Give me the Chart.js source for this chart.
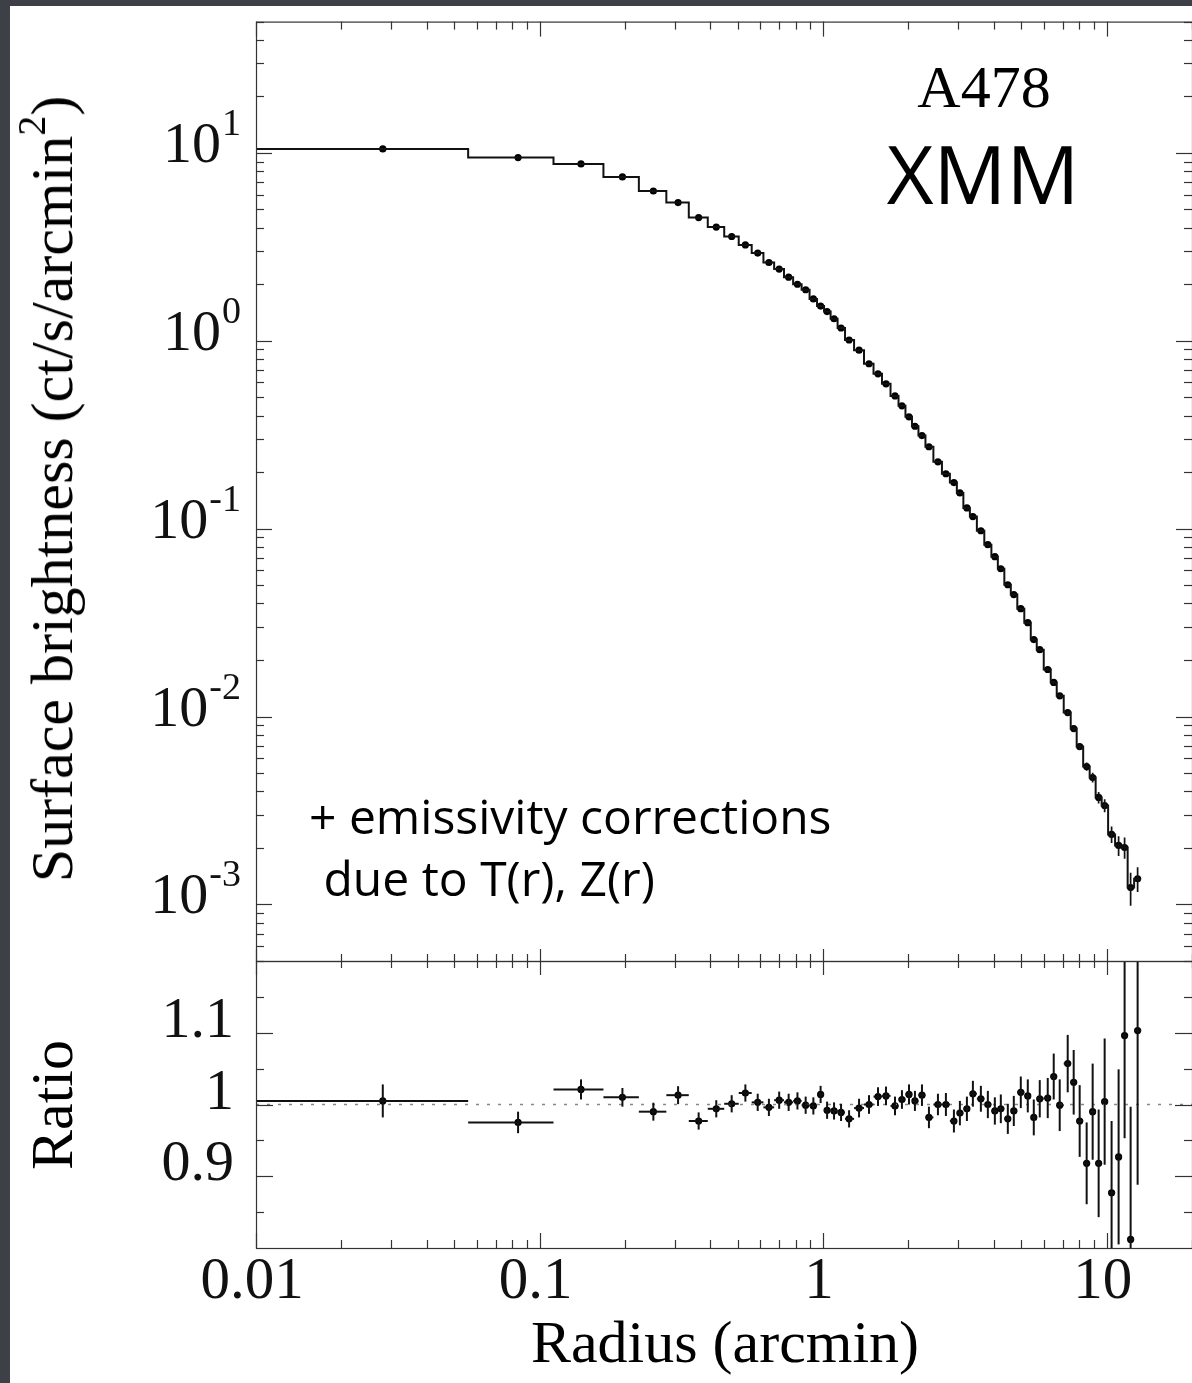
<!DOCTYPE html>
<html><head><meta charset="utf-8">
<script src="https://cdn.jsdelivr.net/npm/chart.js@4.4.1/dist/chart.umd.min.js"></script>
<style>
html,body{margin:0;padding:0;width:1192px;height:1383px;overflow:hidden;background:#3d4046;}
#panel{position:absolute;left:10px;top:6px;width:1182px;height:1377px;background:#fff;}
canvas{position:absolute;left:0;}
#c1{top:0;}
#c2{top:940px;}
.t{position:absolute;white-space:nowrap;line-height:1;color:#000;}
.serif{font-family:'Liberation Serif','Times New Roman',serif;}
.sans{font-family:'Open Sans','Noto Sans',sans-serif;}
</style></head><body>
<div id="panel"></div>
<canvas id="c1" width="1196" height="1000"></canvas>
<canvas id="c2" width="1196" height="443"></canvas>

<div class="t serif" style="left:52px;top:489px;font-size:60px;transform:translate(-50%,-50%) rotate(-90deg);">Surface brightness (ct/s/arcmin<span style="font-size:40px;position:relative;top:-27px;">2</span>)</div>
<div class="t serif" style="left:52px;top:1105px;font-size:60px;transform:translate(-50%,-50%) rotate(-90deg);">Ratio</div>
<div class="t serif" style="left:725px;top:1312px;font-size:60px;transform:translateX(-50%);">Radius (arcmin)</div>
<div class="t serif" style="left:984px;top:57px;font-size:60px;transform:translateX(-50%);">A478</div>
<div class="t sans" style="left:983px;top:132px;font-size:81px;transform:translateX(-50%);">XMM</div>
<div class="t sans" style="left:309px;top:792px;font-size:48px;">+ emissivity corrections</div>
<div class="t sans" style="left:311px;top:854px;font-size:48px;">&nbsp;due to T(r), Z(r)</div>

<script>
// ---------------- DATA ----------------
const binEdges = [0.01,0.056,0.112,0.168,0.224,0.28,0.336,0.392,0.448,0.504,0.56,0.616,0.672,0.728,0.784,0.84,0.896,0.952,1.008,
  1.063,1.125,1.195,1.286,1.394,1.506,1.613,1.729,1.845,1.952,2.058,2.169,2.296,2.449,2.625,2.800,2.963,3.124,3.294,3.486,
  3.703,3.922,4.133,4.357,4.592,4.841,5.124,5.400,5.669,6.000,6.351,6.668,7.057,7.469,7.840,8.265,8.712,9.146,9.603,10.12,
  10.71,11.29,11.86,12.50,13.23];
const radius = [0.028,0.084,0.14,0.196,0.252,0.308,0.364,0.42,0.476,0.532,0.588,0.644,0.70,0.756,0.812,0.868,0.924,0.98,
  1.033,1.093,1.157,1.235,1.339,1.452,1.562,1.667,1.793,1.897,2.009,2.108,2.232,2.362,2.541,2.711,2.893,3.037,3.215,3.375,
  3.601,3.811,4.034,4.234,4.482,4.705,4.980,5.271,5.534,5.809,6.198,6.507,6.831,7.289,7.652,8.033,8.502,8.926,9.371,9.839,
  10.41,11.02,11.57,12.15,12.86];
const brightness = [10.5,9.44,8.74,7.45,6.27,5.44,4.53,4.03,3.59,3.24,2.93,2.61,2.41,2.18,2.00,1.87,1.67,1.53,
  1.43,1.31,1.17,1.01,0.891,0.755,0.667,0.590,0.509,0.451,0.394,0.351,0.313,0.273,0.227,0.196,0.176,0.155,0.129,0.116,
  0.0975,0.0822,0.0710,0.0612,0.0503,0.0446,0.0375,0.0316,0.0257,0.0227,0.0178,0.0152,0.0129,0.0105,0.00863,0.00692,
  0.00542,0.00474,0.00371,0.00336,0.00236,0.00206,0.00201,0.00123,0.00137];
const brightnessErr = [0.005,0.005,0.005,0.005,0.005,0.005,0.005,0.005,0.005,0.005,0.005,0.005,0.005,0.005,0.005,0.005,0.005,0.005,
  0.005,0.005,0.005,0.005,0.005,0.005,0.005,0.005,0.005,0.005,0.008,0.008,0.008,0.008,0.008,0.008,0.008,0.008,0.008,0.008,
  0.012,0.012,0.012,0.012,0.012,0.012,0.012,0.012,0.012,0.012,0.02,0.02,0.025,0.03,0.035,0.04,0.05,0.06,0.07,0.08,
  0.10,0.12,0.13,0.20,0.15];
const ratio = [1.005,0.975,1.021,1.010,0.990,1.013,0.977,0.994,1.001,1.016,1.003,0.996,1.006,1.003,1.005,0.999,0.998,1.014,
  0.992,0.991,0.989,0.980,0.995,1.000,1.011,1.012,0.998,1.007,1.014,1.005,1.013,0.982,1.000,1.000,0.977,0.988,0.994,1.015,
  1.008,1.000,0.991,0.994,0.980,0.991,1.017,1.012,0.982,1.008,1.009,1.039,0.999,1.057,1.031,0.977,0.918,0.990,0.918,1.004,
  0.877,0.927,1.096,0.812,1.103];
const ratioErr = [0.023,0.015,0.014,0.013,0.0125,0.0125,0.012,0.012,0.012,0.012,0.012,0.012,0.012,0.012,0.012,0.012,0.012,0.012,
  0.012,0.012,0.012,0.012,0.013,0.013,0.013,0.013,0.013,0.013,0.014,0.014,0.015,0.015,0.015,0.016,0.016,0.017,0.017,0.018,
  0.018,0.019,0.019,0.020,0.021,0.021,0.022,0.023,0.025,0.026,0.028,0.032,0.036,0.040,0.045,0.050,0.057,0.067,0.075,0.088,
  0.10,0.122,0.143,0.185,0.215];

const xTickValues = [0.01, 0.1, 1, 10];
const xTickLabels = ["0.01", "0.1", "1", "10"];
const sbTickValues = [10, 1, 0.1, 0.01, 0.001];
const sbTickBase = "10";
const sbTickExponents = ["1", "0", "-1", "-2", "-3"];
const ratioTickValues = [1.1, 1.0, 0.9];
const ratioTickLabels = ["1.1", "1", "0.9"];
const ratioMinorTicks = [0.85, 0.95, 1.05, 1.15];
const ratioReference = [1, 1];

// ---------------- helpers ----------------
const SERIF = "'Liberation Serif','Times New Roman',serif";
const INK = '#111';
function logTicks(min, max){
  const major = [], minor = [];
  for (let e = Math.floor(Math.log10(min)) - 1; e <= Math.ceil(Math.log10(max)); e++){
    for (let m = 1; m <= 9; m++){
      const v = m * Math.pow(10, e);
      if (v < min * 0.9999 || v > max * 1.0001) continue;
      (m === 1 ? major : minor).push(v);
    }
  }
  return {major, minor};
}
function xTicks(ctx, a, x, topLen, botLen){
  const t = logTicks(x.min, x.max);
  const draw = (v, lt, lb) => {
    const p = Math.round(x.getPixelForValue(v)) + 0.5;
    if (lt){ ctx.beginPath(); ctx.moveTo(p, a.top); ctx.lineTo(p, a.top + lt); ctx.stroke(); }
    if (lb){ ctx.beginPath(); ctx.moveTo(p, a.bottom); ctx.lineTo(p, a.bottom - lb); ctx.stroke(); }
  };
  t.major.forEach(v => draw(v, topLen[0], botLen[0]));
  t.minor.forEach(v => draw(v, topLen[1], botLen[1]));
}
function yTick(ctx, a, p, len){
  p = Math.round(p) + 0.5;
  ctx.beginPath(); ctx.moveTo(a.left, p); ctx.lineTo(a.left + len, p); ctx.stroke();
  ctx.beginPath(); ctx.moveTo(a.right, p); ctx.lineTo(a.right - len, p); ctx.stroke();
}

// ---------------- top panel ----------------
const stepPoints = [];
for (let i = 0; i < brightness.length; i++){
  stepPoints.push({x: binEdges[i], y: brightness[i]});
  stepPoints.push({x: binEdges[i + 1], y: brightness[i]});
}
const sbPoints = radius.map((r, i) => ({x: r, y: brightness[i]}));

const topPlugin = {
  id: 'topFrame',
  afterDatasetsDraw(chart){
    const {ctx, chartArea: a, scales: {x, y}} = chart;
    ctx.save();
    ctx.beginPath(); ctx.rect(a.left, a.top, a.right - a.left, a.bottom - a.top); ctx.clip();
    ctx.strokeStyle = INK; ctx.lineWidth = 1.7;
    radius.forEach((r, i) => {
      const px = x.getPixelForValue(r);
      const y1 = y.getPixelForValue(brightness[i] * (1 - brightnessErr[i]));
      const y2 = y.getPixelForValue(brightness[i] * (1 + brightnessErr[i]));
      ctx.beginPath(); ctx.moveTo(px, y1); ctx.lineTo(px, y2); ctx.stroke();
    });
    ctx.restore();
  },
  afterDraw(chart){
    const {ctx, chartArea: a, scales: {x, y}} = chart;
    ctx.save();
    ctx.strokeStyle = '#333'; ctx.lineWidth = 1.2;
    ctx.strokeRect(a.left + 0.5, a.top + 0.5, a.right - a.left, a.bottom - a.top);
    xTicks(ctx, a, x, [15, 8], [12, 7]);
    const t = logTicks(y.min, y.max);
    t.major.forEach(v => yTick(ctx, a, y.getPixelForValue(v), 16));
    t.minor.forEach(v => yTick(ctx, a, y.getPixelForValue(v), 8));
    ctx.fillStyle = INK; ctx.textBaseline = 'alphabetic'; ctx.textAlign = 'right';
    sbTickValues.forEach((v, i) => {
      const p = y.getPixelForValue(v);
      ctx.font = '38px ' + SERIF;
      const ew = ctx.measureText(sbTickExponents[i]).width;
      ctx.fillText(sbTickExponents[i], 241, p - 18);
      ctx.font = '58px ' + SERIF;
      ctx.fillText(sbTickBase, 241 - ew - 1, p + 9);
    });
    ctx.restore();
  }
};

new Chart(document.getElementById('c1'), {
  type: 'scatter',
  data: {datasets: [
    {data: stepPoints, showLine: true, pointRadius: 0, borderColor: INK, borderWidth: 2, clip: 0},
    {data: sbPoints, showLine: false, pointRadius: 3.6, pointBackgroundColor: '#000', pointBorderWidth: 0, clip: 0}
  ]},
  options: {
    responsive: false, animation: false, events: [],
    layout: {padding: {left: 256, top: 21.6, right: 2.5, bottom: 39}},
    plugins: {legend: {display: false}, tooltip: {enabled: false}, title: {display: false}},
    scales: {
      x: {type: 'logarithmic', min: 0.01, max: 20, display: false},
      y: {type: 'logarithmic', min: 5e-4, max: 50, display: false}
    }
  },
  plugins: [topPlugin]
});

// ---------------- ratio panel ----------------
const ratioPoints = radius.map((r, i) => ({x: r, y: ratio[i]}));
const refLine = [{x: 0.01, y: ratioReference[0]}, {x: 20, y: ratioReference[1]}];

const ratioPlugin = {
  id: 'ratioFrame',
  afterDatasetsDraw(chart){
    const {ctx, chartArea: a, scales: {x, y}} = chart;
    ctx.save();
    ctx.beginPath(); ctx.rect(a.left, a.top, a.right - a.left, a.bottom - a.top); ctx.clip();
    ctx.strokeStyle = INK; ctx.lineWidth = 2;
    radius.forEach((r, i) => {
      const px = x.getPixelForValue(r), py = y.getPixelForValue(ratio[i]);
      const xl = x.getPixelForValue(binEdges[i]), xr = x.getPixelForValue(binEdges[i + 1]);
      const y1 = y.getPixelForValue(ratio[i] - ratioErr[i]), y2 = y.getPixelForValue(ratio[i] + ratioErr[i]);
      ctx.beginPath(); ctx.moveTo(xl, py); ctx.lineTo(xr, py); ctx.stroke();
      ctx.beginPath(); ctx.moveTo(px, y1); ctx.lineTo(px, y2); ctx.stroke();
    });
    ctx.restore();
  },
  afterDraw(chart){
    const {ctx, chartArea: a, scales: {x, y}} = chart;
    ctx.save();
    ctx.strokeStyle = '#333'; ctx.lineWidth = 1.2;
    ctx.strokeRect(a.left + 0.5, a.top + 0.5, a.right - a.left, a.bottom - a.top);
    xTicks(ctx, a, x, [14, 7], [15, 8]);
    ratioTickValues.forEach(v => yTick(ctx, a, y.getPixelForValue(v), 17));
    ratioMinorTicks.forEach(v => yTick(ctx, a, y.getPixelForValue(v), 8));
    ctx.fillStyle = INK; ctx.textBaseline = 'alphabetic';
    ctx.font = '58px ' + SERIF; ctx.textAlign = 'right';
    ratioTickValues.forEach((v, i) => ctx.fillText(ratioTickLabels[i], 234, y.getPixelForValue(v) + 4));
    ctx.textAlign = 'center'; ctx.font = '59px ' + SERIF;
    xTickValues.forEach((v, i) => ctx.fillText(xTickLabels[i], x.getPixelForValue(v) - 4, 358));
    ctx.restore();
  }
};

new Chart(document.getElementById('c2'), {
  type: 'scatter',
  data: {datasets: [
    {data: refLine, showLine: true, pointRadius: 0, borderColor: '#888', borderWidth: 1.5, borderDash: [3, 8], clip: 0},
    {data: ratioPoints, showLine: false, pointRadius: 3.6, pointBackgroundColor: '#000', pointBorderWidth: 0, clip: 0}
  ]},
  options: {
    responsive: false, animation: false, events: [],
    layout: {padding: {left: 256, top: 21, right: 2.5, bottom: 135}},
    plugins: {legend: {display: false}, tooltip: {enabled: false}, title: {display: false}},
    scales: {
      x: {type: 'logarithmic', min: 0.01, max: 20, display: false},
      y: {type: 'linear', min: 0.8, max: 1.2, display: false}
    }
  },
  plugins: [ratioPlugin]
});
</script>
</body></html>
